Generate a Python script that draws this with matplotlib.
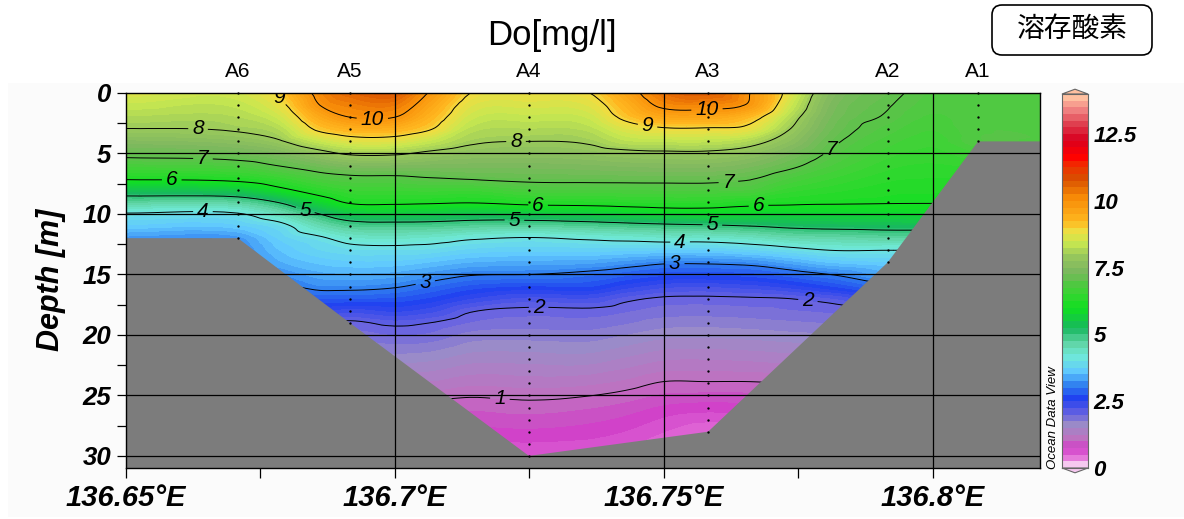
import numpy as np
import matplotlib
matplotlib.use("Agg")
import matplotlib.pyplot as plt
import matplotlib.tri as mtri
from matplotlib.colors import LinearSegmentedColormap, Normalize
from matplotlib.patches import FancyBboxPatch, Polygon, Rectangle

plt.rcParams['font.family'] = ['Liberation Sans', 'DejaVu Sans']

# stations along the section
station_names = ['A6', 'A5', 'A4', 'A3', 'A2', 'A1']
station_lon = [136.6708, 136.6916, 136.7249, 136.7582, 136.7916, 136.8084]
station_bottom = [12, 19, 30, 28, 14, 4]

# depths of the rows in the profiles below
depths = [0, 1, 2, 3, 4, 5, 6, 7, 8, 9, 10, 11, 12, 13, 14, 15, 16, 17, 18, 19, 20, 22, 24, 26, 28, 30]

# longitudes of the profiles, then Do [mg/l]
grid_lon = [136.65, 136.6708, 136.6786, 136.686, 136.6916, 136.7, 136.7065, 136.714, 136.7249, 136.7362,
            136.7427, 136.75, 136.7582, 136.766, 136.7734, 136.7808, 136.7916, 136.8, 136.8084, 136.8199]
profiles = [
    [8.7, 8.46, 8.22, 7.98, 7.57, 7.16, 6.67, 6.11, 5.38, 4.64, 3.96, 3.58, 3.2, 3.1, 3.0, 2.9, 2.8, 2.6, 2.4, 2.2, 2.0, 1.6, 1.2, .9, .7, .5],
    [8.6, 8.42, 8.24, 8.06, 7.71, 7.27, 6.78, 6.22, 5.48, 4.67, 3.96, 3.58, 3.2, 3.1, 3.0, 2.9, 2.8, 2.6, 2.4, 2.2, 2.0, 1.6, 1.2, .9, .7, .5],
    [9.1, 8.85, 8.56, 8.26, 7.95, 7.47, 7.02, 6.46, 5.87, 5.06, 4.4, 3.85, 3.65, 3.5, 3.35, 3.1, 2.9, 2.6, 2.4, 2.2, 2.0, 1.6, 1.2, .9, .7, .5],
    [10.2, 10.0, 9.56, 9.11, 8.46, 7.82, 7.29, 6.78, 6.28, 5.69, 5.0, 4.44, 3.93, 3.74, 3.53, 3.32, 3.1, 2.75, 2.4, 2.0, 1.85, 1.6, 1.2, .9, .7, .5],
    [10.6, 10.3, 10.0, 9.38, 8.73, 8.07, 7.45, 6.9, 6.49, 6.08, 5.38, 4.73, 4.19, 3.84, 3.59, 3.35, 3.1, 2.74, 2.3, 1.95, 1.8, 1.6, 1.2, .9, .7, .5],
    [10.75, 10.37, 10.0, 9.38, 8.73, 8.07, 7.47, 6.92, 6.52, 6.12, 5.46, 4.79, 4.26, 3.86, 3.58, 3.31, 3.03, 2.71, 2.39, 2.06, 1.87, 1.55, 1.2, .92, .7, .5],
    [9.95, 9.65, 9.36, 9.03, 8.45, 7.89, 7.44, 7.0, 6.55, 6.09, 5.43, 4.77, 4.2, 3.83, 3.49, 3.18, 2.88, 2.59, 2.29, 2.0, 1.84, 1.52, 1.22, .92, .7, .5],
    [9.0, 8.77, 8.55, 8.32, 8.09, 7.75, 7.43, 7.07, 6.52, 6.05, 5.36, 4.69, 4.06, 3.7, 3.37, 3.03, 2.7, 2.37, 2.03, 1.86, 1.7, 1.42, 1.15, .9, .7, .5],
    [8.9, 8.68, 8.45, 8.23, 8.0, 7.71, 7.43, 7.14, 6.72, 6.17, 5.42, 4.64, 3.97, 3.65, 3.32, 3.0, 2.6, 2.2, 1.94, 1.81, 1.68, 1.42, 1.17, .93, .72, .5],
    [9.0, 8.77, 8.53, 8.3, 8.07, 7.78, 7.47, 7.16, 6.74, 6.21, 5.5, 4.73, 4.07, 3.66, 3.28, 2.9, 2.62, 2.23, 1.95, 1.82, 1.69, 1.43, 1.14, .88, .68, .5],
    [9.65, 9.38, 9.12, 8.7, 8.33, 7.86, 7.52, 7.17, 6.75, 6.25, 5.58, 4.8, 4.13, 3.64, 3.18, 2.79, 2.43, 2.07, 1.89, 1.76, 1.62, 1.35, 1.08, .82, .62, .45],
    [10.5, 10.14, 9.59, 8.92, 8.39, 7.91, 7.55, 7.18, 6.76, 6.29, 5.67, 4.87, 4.2, 3.61, 3.06, 2.66, 2.28, 1.96, 1.82, 1.68, 1.54, 1.26, .98, .72, .5, .4],
    [10.7, 10.2, 9.59, 8.92, 8.39, 7.91, 7.55, 7.18, 6.76, 6.29, 5.69, 4.92, 4.2, 3.61, 3.06, 2.66, 2.25, 1.95, 1.81, 1.67, 1.53, 1.25, .98, .68, .4, .3],
    [10.0, 9.9, 9.25, 8.8, 8.2, 7.76, 7.41, 7.06, 6.74, 6.17, 5.67, 5.0, 4.3, 3.71, 3.12, 2.69, 2.31, 1.97, 1.83, 1.69, 1.55, 1.27, .98, .7, .42, .3],
    [8.77, 8.55, 8.25, 8.0, 7.72, 7.4, 7.11, 6.75, 6.43, 6.11, 5.63, 5.1, 4.47, 3.85, 3.3, 2.83, 2.42, 2.0, 1.86, 1.72, 1.58, 1.3, 1.0, .7, .42, .3],
    [7.6, 7.48, 7.38, 7.27, 7.12, 6.95, 6.75, 6.52, 6.3, 6.07, 5.65, 5.15, 4.53, 4.0, 3.5, 3.0, 2.6, 2.1, 1.9, 1.75, 1.6, 1.3, 1.0, .7, .4, .3],
    [7.12, 7.03, 6.95, 6.81, 6.68, 6.55, 6.42, 6.29, 6.17, 6.04, 5.67, 5.19, 4.6, 4.0, 3.6, 3.3, 2.9, 2.4, 2.0, 1.8, 1.6, 1.3, 1.0, .7, .4, .3],
    [6.85, 6.8, 6.72, 6.63, 6.54, 6.45, 6.35, 6.25, 6.15, 6.03, 5.7, 5.2, 4.6, 4.0, 3.6, 3.3, 2.9, 2.4, 2.0, 1.8, 1.6, 1.3, 1.0, .7, .4, .3],
    [6.85, 6.85, 6.85, 6.85, 6.85, 6.6, 6.4, 6.25, 6.15, 6.03, 5.7, 5.2, 4.6, 4.0, 3.6, 3.3, 2.9, 2.4, 2.0, 1.8, 1.6, 1.3, 1.0, .7, .4, .3],
    [6.85, 6.85, 6.85, 6.85, 6.85, 6.6, 6.4, 6.25, 6.15, 6.03, 5.7, 5.2, 4.6, 4.0, 3.6, 3.3, 2.9, 2.4, 2.0, 1.8, 1.6, 1.3, 1.0, .7, .4, .3],
]

# bottom outline, drawn over the field
land_lon = [136.65, 136.6708, 136.6916, 136.7249, 136.7582, 136.7916, 136.8084, 136.8199]
land_depth = [12, 12, 19, 30, 28, 14, 4, 4]

contour_levels = [1, 2, 3, 4, 5, 6, 7, 8, 9, 10]
label_spots = [(136.6634, 2.9), (136.6643, 5.5), (136.6585, 7.3), (136.6643, 10.0), (136.6833, 9.7),
               (136.6958, 2.0), (136.7225, 4.0), (136.7266, 9.3), (136.7222, 10.6), (136.7057, 15.8),
               (136.7267, 17.6), (136.7195, 25.3), (136.7580, 1.4), (136.7469, 2.85), (136.7620, 7.5),
               (136.7814, 4.8), (136.7676, 9.5), (136.7590, 10.9), (136.7530, 12.3), (136.7520, 14.1),
               (136.7768, 17.0), (136.6785, 0.35)]

lon_ticks = [136.65, 136.7, 136.75, 136.8]
lon_minor = [136.675, 136.725, 136.775]
depth_ticks = [0, 5, 10, 15, 20, 25, 30]
depth_minor = [2.5, 7.5, 12.5, 17.5, 22.5, 27.5]
cbar_ticks = [0, 2.5, 5, 7.5, 10, 12.5]

# colour bar stops, value then colour
stop_values = [0, .3, .65, .95, 1.5, 1.9, 2.5, 3.0, 3.5, 4.1, 4.6, 5.15, 5.9, 6.5, 7.0, 7.5, 8.0, 8.5, 9.0,
               9.3, 10.2, 10.9, 11.4, 11.75, 12.4, 13.0, 13.5, 14]
stop_colors = ['#f6c8f0', '#e26cd8', '#d040c8', '#c070c0', '#9c8cc8', '#6a64e0', '#2040f0', '#3080f0',
               '#60c8ff', '#70ead8', '#60d4a4', '#18b860', '#10e020', '#3cd434', '#5cc24a', '#80b860',
               '#98c85c', '#c8e850', '#f2dc40', '#ffb820', '#f88c08', '#d85000', '#f03000', '#ff0000',
               '#d80020', '#e04050', '#f08080', '#ffc0a0']


def make_cmap():
    stops = [(v / 14, c) for v, c in zip(stop_values, stop_colors)]
    return LinearSegmentedColormap.from_list('odv', stops, N=112)


def smooth_field(lons, zs, table):
    # let matplotlib's tri tools round the isolines, lon is stretched so the cells are about square
    stretch = 445.0
    xx, zz = np.meshgrid(np.array(lons) - lons[0], zs)
    tri = mtri.Triangulation(xx.ravel() * stretch, zz.ravel())
    refiner = mtri.UniformTriRefiner(tri)
    interp = mtri.CubicTriInterpolator(tri, table.ravel(), kind='geom')
    fine_tri, fine_val = refiner.refine_field(table.ravel(), triinterpolator=interp, subdiv=3)
    fine = mtri.Triangulation(fine_tri.x / stretch + lons[0], fine_tri.y, fine_tri.triangles)
    return fine, fine_val


fig = plt.figure(figsize=(11.84, 5.19), dpi=100, facecolor='white')
fig.add_artist(Rectangle((8 / 1184, 2 / 519), 1176 / 1184, 434 / 519, transform=fig.transFigure,
                         facecolor='#fbfbfb', edgecolor='none', zorder=-5))

ax = fig.add_axes([126 / 1184, 51 / 519, 914 / 1184, 375 / 519])
cmap = make_cmap()
norm = Normalize(0, 14)
field = np.array(profiles).T
fine_tri, fine_val = smooth_field(grid_lon, depths, field)

ax.tricontourf(fine_tri, fine_val, levels=np.arange(-1, 15.01, 0.125), cmap=cmap, norm=norm, zorder=1)
cs = ax.tricontour(fine_tri, fine_val, levels=contour_levels, colors='black', linewidths=0.7, zorder=2)
labels = ax.clabel(cs, fmt='%d', manual=label_spots, inline=True, inline_spacing=4,
                   fontsize=15)
for t in labels:
    t.set_rotation(0)
    t.set_fontstyle('italic')
    t.set_zorder(7)
    t.set_clip_on(True)

land_x = [land_lon[0]] + land_lon + [land_lon[-1]]
land_y = [31] + land_depth + [31]
ax.add_patch(Polygon(list(zip(land_x, land_y)), closed=True, facecolor='#7c7c7c', edgecolor='none', zorder=4))

for d in depth_ticks[1:]:
    ax.axhline(d, color='black', lw=0.9, zorder=5)
for lon in lon_ticks[1:]:
    ax.axvline(lon, color='black', lw=0.9, zorder=5)

# station samples, one dot per metre
for name, lon, bottom in zip(station_names, station_lon, station_bottom):
    zs = np.arange(0, bottom + 1)
    ax.plot([lon] * len(zs), zs, ls='none', marker='o', ms=1.7, mec='none', mfc='black', zorder=6, clip_on=False)
    ax.text(lon, -1.75, name, fontsize=15, ha='center', va='center')

ax.set_xlim(136.65, 136.8199)
ax.set_ylim(31, 0)
ax.set_xticks(lon_ticks)
ax.set_xticklabels([f'{v}°E' for v in lon_ticks], fontsize=21, fontweight='bold', fontstyle='italic')
ax.set_xticks(lon_minor, minor=True)
ax.set_yticks(depth_ticks)
ax.set_yticklabels(depth_ticks, fontsize=18.5, fontweight='bold', fontstyle='italic')
ax.set_yticks(depth_minor, minor=True)
ax.tick_params(axis='x', which='both', length=7.5, width=0.9, pad=4)
ax.tick_params(axis='y', which='both', length=6.5, width=0.9, pad=4)
for s in ax.spines.values():
    s.set_linewidth(1.0)
    s.set_zorder(8)

fig.text(51 / 1184, 1 - 280 / 519, 'Depth [m]', rotation=90, fontsize=22, fontweight='bold', fontstyle='italic',
         ha='center', va='center')
fig.text(552 / 1184, 1 - 35 / 519, 'Do[mg/l]', fontsize=25, ha='center', va='center')

# colour bar with its two pointed ends
cax = fig.add_axes([1062 / 1184, 51 / 519, 26 / 1184, 374 / 519])
cax.imshow(np.linspace(14, 0, 56)[:, None], cmap=cmap, norm=norm, aspect='auto', extent=[0, 1, 0, 14])
cax.add_patch(Polygon([(0, 14), (.5, 14.18), (1, 14)], closed=True, facecolor=stop_colors[-1], edgecolor='#666666',
                      lw=0.8, clip_on=False))
cax.add_patch(Polygon([(0, 0), (.5, -.18), (1, 0)], closed=True, facecolor=stop_colors[0], edgecolor='#666666',
                      lw=0.8, clip_on=False))
cax.set_xticks([])
cax.yaxis.tick_right()
cax.set_yticks(cbar_ticks)
cax.set_yticklabels(['0', '2.5', '5', '7.5', '10', '12.5'], fontsize=16, fontweight='bold', fontstyle='italic')
cax.tick_params(axis='y', length=0, pad=4)
for s in cax.spines.values():
    s.set_linewidth(0.8)
    s.set_color('#666666')

fig.text(1053 / 1184, 1 - 418 / 519, 'Ocean Data View', rotation=90, fontsize=9.5, fontstyle='italic',
         ha='center', va='center')

# label box, top right
over = fig.add_axes([0, 0, 1, 1], facecolor='none')
over.set_xlim(0, 1184)
over.set_ylim(519, 0)
over.axis('off')
over.add_patch(FancyBboxPatch((992, 5), 160, 50, boxstyle='round,pad=0,rounding_size=10', facecolor='white',
                              edgecolor='black', lw=1.2))
over.text(1072, 29, '溶存酸素', fontsize=20, family=['Noto Sans CJK JP', 'DejaVu Sans'], ha='center', va='center')

fig.savefig('out.png', dpi=100)
